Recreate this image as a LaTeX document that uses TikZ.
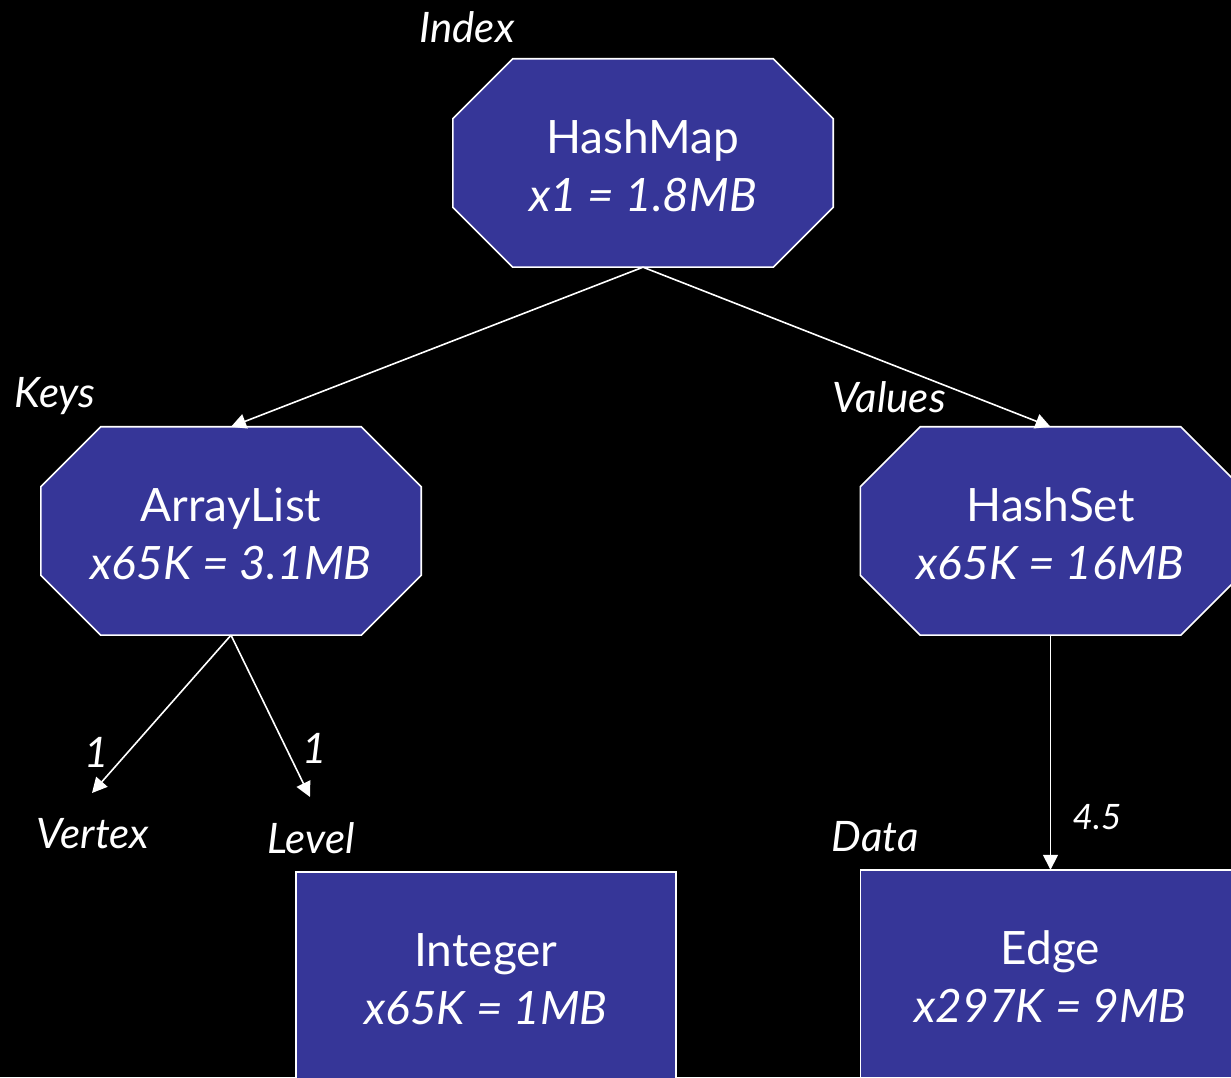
\documentclass[tikz,border=0pt]{standalone}
\usepackage{fontspec}
\setmainfont{Lato}
\usetikzlibrary{calc,arrows.meta}
\definecolor{boxblue}{RGB}{54,54,152}
\tikzset{
  x=1pt,y=1pt,
  frame/.style={draw=none,minimum width=380pt,minimum height=208pt,inner sep=0pt},
  boxface/.style={fill=boxblue,draw=white,line width=1.6pt},
  boxtext/.style={text=white,align=center,font=\fontsize{46}{58}\selectfont},
  lbl/.style={text=white,font=\fontsize{42}{48}\selectfont\itshape,inner sep=0pt},
  arr/.style={draw=white,line width=1.6pt,-{Triangle[length=15pt,width=15pt]}}
}
\newcommand\octface[1]{%
  \path[boxface] ($(#1.north west)+(60,0)$) -- ($(#1.north east)+(-60,0)$) --
    ($(#1.north east)+(0,-60)$) -- ($(#1.south east)+(0,60)$) --
    ($(#1.south east)+(-60,0)$) -- ($(#1.south west)+(60,0)$) --
    ($(#1.south west)+(0,60)$) -- ($(#1.north west)+(0,-60)$) -- cycle;}
\begin{document}
\begin{tikzpicture}
\fill[black] (0,0) rectangle (1231,1077);
\useasboundingbox (0,0) rectangle (1231,1077);
\clip (0,0) rectangle (1231,1077);
% frames
\node[frame] (hm) at (643,914) {};
\node[frame] (al) at (231,546) {};
\node[frame] (hs) at (1050.5,546) {};
\node[frame] (ig) at (486,101) {};
\node[frame] (ed) at (1050.5,103) {};
\octface{hm}
\octface{al}
\octface{hs}
\path[boxface] (ig.south west) rectangle (ig.north east);
\path[boxface] (ed.south west) rectangle (ed.north east);
% texts
\node[boxtext] (hmt) at ([yshift=-3]hm.center) {HashMap\\\itshape x1 = 1.8MB};
\node[boxtext] (alt) at ([yshift=-3]al.center) {ArrayList\\\itshape x65K = 3.1MB};
\node[boxtext] (hst) at ([yshift=-3]hs.center) {HashSet\\\itshape x65K = 16MB};
\node[boxtext] (igt) at ([yshift=-3]ig.center) {Integer\\\itshape x65K = 1MB};
\node[boxtext] (edt) at ([yshift=-3]ed.center) {Edge\\\itshape x297K = 9MB};
% labels
\node[lbl] (index) at (467,1050) {Index};
\node[lbl] (keys) at (55,681) {Keys};
\node[lbl] (values) at (889,680) {Values};
\node[lbl] (vertex) at (93,243) {Vertex};
\node[lbl] (level) at (311,239) {Level};
\node[lbl] (data) at (875,240) {Data};
\node[lbl] (one1) at (97,325) {1};
\node[lbl] (one2) at (315,329) {1};
\node[lbl,font=\fontsize{35}{40}\selectfont\itshape] (four) at (1097,260) {4.5};
% connectors
\coordinate (vtip) at (92,284);
\coordinate (ltip) at (310,280);
\draw[arr] (hm.south) -- (al.north);
\draw[arr] (hm.south) -- (hs.north);
\draw[arr] (al.south) -- (vtip);
\draw[arr] (al.south) -- (ltip);
\draw[arr] (hs.south) -- (ed.north);
\end{tikzpicture}
\end{document}
